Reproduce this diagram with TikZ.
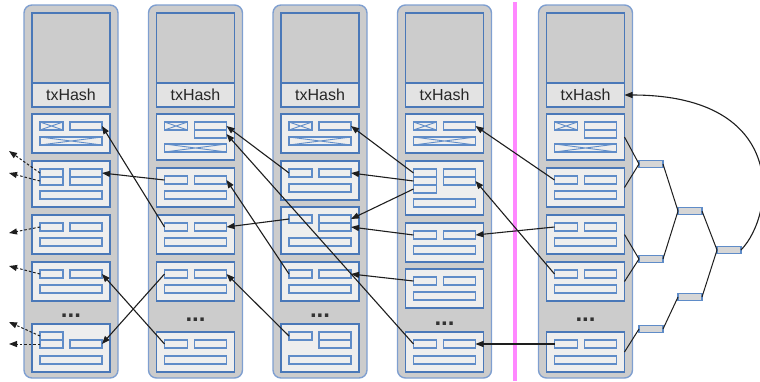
\documentclass[tikz,border=0pt]{standalone}
\usepackage{fontspec}
\setmainfont{Liberation Sans}
\usetikzlibrary{arrows.meta}
\definecolor{blkfill}{HTML}{CCCCCC}
\definecolor{blkline}{HTML}{7F9FD0}
\definecolor{boxline}{HTML}{4A78B8}
\definecolor{ibline}{HTML}{5F8CC8}
\definecolor{txfill}{HTML}{EEEEEE}
\definecolor{bandfill}{HTML}{E3E3E3}
\definecolor{mkfill}{HTML}{D6D6D6}
\definecolor{sepline}{HTML}{FF88FF}
\definecolor{arr}{HTML}{1E1E1E}
\tikzset{
 blockbox/.style={draw=blkline, fill=blkfill, line width=1.4pt, rounded corners=8pt, minimum width=94pt, minimum height=373pt, inner sep=0pt, outer sep=0pt, anchor=north west},
 hdrbox/.style={draw=boxline, fill=blkfill, line width=1.5pt, minimum width=78pt, minimum height=70pt, inner sep=0pt, outer sep=0pt, anchor=north west},
 bandbox/.style={draw=boxline, fill=bandfill, line width=1.5pt, minimum width=78pt, minimum height=24pt, inner sep=0pt, outer sep=0pt, anchor=north west, font=\fontsize{16}{16}\selectfont, text=black!85},
 txb/.style={draw=boxline, fill=txfill, line width=1.5pt, minimum width=78pt, inner sep=0pt, outer sep=0pt, anchor=north west},
 ibx/.style={draw=ibline, fill=txfill, line width=1.1pt, minimum height=8pt, inner sep=0pt, outer sep=0pt, anchor=north west},
 crossed/.style={path picture={\draw[ibline, line width=0.9pt] (path picture bounding box.north west) -- (path picture bounding box.south east) (path picture bounding box.south west) -- (path picture bounding box.north east);}},
 dotsnode/.style={font=\fontsize{24}{24}\selectfont\bfseries, text=black!80, inner sep=0pt},
 mk/.style={draw=ibline, fill=mkfill, line width=1.1pt, minimum width=24pt, minimum height=7pt, inner sep=0pt, outer sep=0pt},
 txlink/.style={draw=arr, line width=1.1pt, -{Triangle[length=8pt,width=6pt]}},
 extarrow/.style={draw=arr, line width=1pt, dash pattern=on 2.5pt off 2pt, -{Triangle[length=8pt,width=6pt]}},
 mline/.style={draw=arr, line width=1pt},
}
\newcommand\txn[4]{\node[txb, minimum height={#4-#3}] (#1) at (#2,#3) {};}
\newcommand\ibn[4]{\node[ibx, minimum width=#4] (#1) at (#2,#3) {};}
\newcommand\xbn[4]{\node[ibx, crossed, minimum width=#4] (#1) at (#2,#3) {};}
\newcommand\stdtx[4]{\txn{#1}{#2}{#3}{#4}
 \ibn{#1i}{#2+8}{#3+8}{23}
 \ibn{#1o}{#2+38}{#3+8}{32}
 \ibn{#1b}{#2+8}{#4-16}{62}}
\newcommand\cbtx[4]{\txn{#1}{#2}{#3}{#4}
 \xbn{#1i}{#2+8}{#3+8}{23}
 \ibn{#1o}{#2+38}{#3+8}{32}
 \xbn{#1b}{#2+8}{#4-16}{62}}
\newcommand\cbtxd[4]{\txn{#1}{#2}{#3}{#4}
 \xbn{#1i}{#2+8}{#3+8}{23}
 \ibn{#1o1}{#2+38}{#3+8}{32}
 \ibn{#1o2}{#2+38}{#3+16}{32}
 \xbn{#1b}{#2+8}{#4-16}{62}}
\newcommand\blockcol[2]{%
 \node[blockbox] (blk#1) at (#2-8,5) {};
 \node[hdrbox] (hdr#1) at (#2,13) {};
 \node[bandbox] (band#1) at (#2,83) {txHash};}
\begin{document}
\begin{tikzpicture}[x=1pt,y=-1pt]
\useasboundingbox (0,0) rectangle (760,381);
% separator
\coordinate (sepTop) at (515,2);
\coordinate (sepBot) at (515,381);
\draw[sepline, line width=4pt] (sepTop) -- (sepBot);
% blocks
\blockcol{1}{32}
\blockcol{2}{156.5}
\blockcol{3}{281}
\blockcol{4}{405.5}
\blockcol{5}{546.5}
% column 1
\cbtx{c1t1}{32}{114}{153}
\txn{c1t2}{32}{161}{207}
\ibn{c1t2i1}{40}{169}{23}
\ibn{c1t2i2}{40}{177}{23}
\ibn{c1t2o1}{70}{169}{32}
\ibn{c1t2o2}{70}{177}{32}
\ibn{c1t2b}{40}{191}{62}
\stdtx{c1t3}{32}{215}{254}
\stdtx{c1t4}{32}{262}{301}
\txn{c1t5}{32}{324}{372}
\ibn{c1t5i1}{40}{332}{23}
\ibn{c1t5i2}{40}{340}{23}
\ibn{c1t5o}{70}{340}{32}
\ibn{c1t5b}{40}{356}{62}
\node[dotsnode] (d1) at (71,316) {...};
% column 2
\cbtxd{c2t1}{156.5}{114}{160}
\stdtx{c2t2}{156.5}{168}{207}
\stdtx{c2t3}{156.5}{215}{254}
\stdtx{c2t4}{156.5}{262}{301}
\stdtx{c2t5}{156.5}{332}{372}
\node[dotsnode] (d2) at (195.5,320) {...};
% column 3
\cbtx{c3t1}{281}{114}{153}
\stdtx{c3t2}{281}{161}{200}
\txn{c3t3}{281}{207}{254}
\ibn{c3t3i}{289}{215}{23}
\ibn{c3t3o1}{319}{215}{32}
\ibn{c3t3o2}{319}{223}{32}
\ibn{c3t3b}{289}{238}{62}
\stdtx{c3t4}{281}{262}{301}
\txn{c3t5}{281}{324}{372}
\ibn{c3t5i}{289}{332}{23}
\ibn{c3t5o1}{319}{332}{32}
\ibn{c3t5o2}{319}{340}{32}
\ibn{c3t5b}{289}{356}{62}
\node[dotsnode] (d3) at (320,316) {...};
% column 4
\cbtx{c4t1}{405.5}{114}{153}
\txn{c4t2}{405.5}{161}{215}
\ibn{c4t2i1}{413.5}{169}{23}
\ibn{c4t2i2}{413.5}{177}{23}
\ibn{c4t2i3}{413.5}{185}{23}
\ibn{c4t2o1}{443.5}{169}{32}
\ibn{c4t2o2}{443.5}{177}{32}
\ibn{c4t2b}{413.5}{199}{62}
\stdtx{c4t3}{405.5}{223}{262}
\stdtx{c4t4}{405.5}{269}{308}
\stdtx{c4t5}{405.5}{332}{372}
\node[dotsnode] (d4) at (444.5,324) {...};
% column 5
\cbtxd{c5t1}{546.5}{114}{160}
\stdtx{c5t2}{546.5}{168}{207}
\stdtx{c5t3}{546.5}{215}{254}
\stdtx{c5t4}{546.5}{262}{301}
\stdtx{c5t5}{546.5}{332}{372}
\node[dotsnode] (d5) at (585.5,320) {...};
% merkle tree
\node[mk] (m1) at (651,164) {};
\node[mk] (m2) at (651,259) {};
\node[mk] (m3) at (651,329) {};
\node[mk] (n1) at (690,211) {};
\node[mk] (n2) at (690,297) {};
\node[mk] (rt) at (729,250) {};
\draw[mline] (c5t1.east) -- (m1.west);
\draw[mline] (c5t2.east) -- (m1.west);
\draw[mline] (c5t3.east) -- (m2.west);
\draw[mline] (c5t4.east) -- (m2.west);
\draw[mline] (c5t5.east) -- (m3.west);
\draw[mline] (m1.east) -- (n1.west);
\draw[mline] (m2.east) -- (n1.west);
\draw[mline] (m3.east) -- (n2.west);
\draw[mline] (n1.east) -- (rt.west);
\draw[mline] (n2.east) -- (rt.west);
\draw[txlink] (rt.east) .. controls (775,215) and (790,95) .. (band5.east);
% spends: col2 -> col1
\draw[txlink] (c2t2i.west) -- (c1t2o1.east);
\draw[txlink] (c2t3i.west) -- (c1t1o.east);
\draw[txlink] (c2t4i.west) -- (c1t5o.east);
\draw[txlink] (c2t5i.west) -- (c1t4o.east);
% col3 -> col2
\draw[txlink] (c3t2i.west) -- (c2t1o1.east);
\draw[txlink] (c3t3i.west) -- (c2t3o.east);
\draw[txlink] (c3t4i.west) -- (c2t2o.east);
\draw[txlink] (c3t5i.west) -- (c2t4o.east);
% col4 -> col2 / col3
\draw[txlink] (c4t5i.west) -- (c2t1o2.east);
\draw[txlink] (c4t2i1.west) -- (c3t1o.east);
\draw[txlink] (c4t2i2.west) -- (c3t2o.east);
\draw[txlink] (c4t2i3.west) -- (c3t3o1.east);
\draw[txlink] (c4t3i.west) -- (c3t3o2.east);
\draw[txlink] (c4t4i.west) -- (c3t4o.east);
% col5 -> col4
\draw[txlink] (c5t2i.west) -- (c4t1o.east);
\draw[txlink] (c5t3i.west) -- (c4t3o.east);
\draw[txlink] (c5t4i.west) -- (c4t2o2.east);
\draw[txlink] (c5t5i.west) -- (c4t5o.east);
% spends out of view
\coordinate (e1) at (9,151);
\coordinate (e2) at (9,173);
\coordinate (e3) at (9,233);
\coordinate (e4) at (9,266);
\coordinate (e5) at (9,322);
\coordinate (e6) at (9,344);
\draw[extarrow] (c1t2i1.west) -- (e1);
\draw[extarrow] (c1t2i2.west) -- (e2);
\draw[extarrow] (c1t3i.west) -- (e3);
\draw[extarrow] (c1t4i.west) -- (e4);
\draw[extarrow] (c1t5i1.west) -- (e5);
\draw[extarrow] (c1t5i2.west) -- (e6);
\end{tikzpicture}
\end{document}
